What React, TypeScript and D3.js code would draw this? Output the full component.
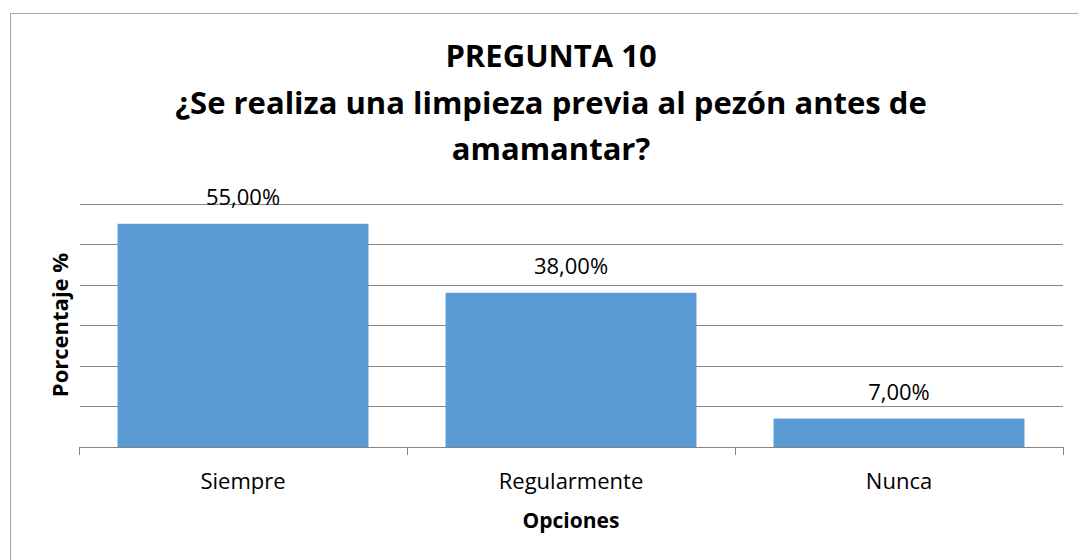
import * as d3 from 'd3';
import React, { ReactElement } from 'react';

const categories = ['Siempre', 'Regularmente', 'Nunca'];
const values = [55, 38, 7];
const yTicks = [0, 10, 20, 30, 40, 50, 60];
const titleLines = ['PREGUNTA 10', '¿Se realiza una limpieza previa al pezón antes de', 'amamantar?'];

const WIDTH = 1078;
const HEIGHT = 560;
const FONT = '"Open Sans", sans-serif';
const GRID = '#868686';

const App = (): ReactElement => {
  const left = 79;
  const right = 1063;
  const top = 203.5;
  const bottom = 447;

  const x = d3
    .scaleBand<string>()
    .domain(categories)
    .range([left, right])
    .paddingInner(0.235)
    .paddingOuter(0.1175);

  const y = d3.scaleLinear().domain([0, 60]).range([bottom, top]);

  const step = x.step();
  const edges = d3.range(categories.length + 1).map((i) => left + i * step);
  const fmt = (v: number) => v.toFixed(2).replace('.', ',') + '%';

  return (
    <svg
      width={WIDTH}
      height={HEIGHT}
      style={{ position: 'absolute', left: 0, top: 0, background: '#fff' }}
      fontFamily={FONT}
    >
      <rect x={10.5} y={13.5} width={1200} height={700} fill="#fff" stroke="#a6a6a6" />

      {titleLines.map((t, i) => (
        <text
          key={i}
          x={551}
          y={67 + i * 46.5}
          textAnchor="middle"
          fontSize={31}
          fontWeight="bold"
          fill="#000"
        >
          {t}
        </text>
      ))}

      {yTicks.slice(1).map((t) => (
        <line key={t} x1={left + 1} x2={right} y1={Math.round(y(t)) + 0.5} y2={Math.round(y(t)) + 0.5} stroke={GRID} />
      ))}

      {categories.map((c, i) => (
        <rect
          key={c}
          x={x(c)}
          y={y(values[i])}
          width={x.bandwidth()}
          height={bottom - y(values[i])}
          fill="#5b9bd5"
        />
      ))}

      <line x1={left} x2={right + 1} y1={bottom + 0.5} y2={bottom + 0.5} stroke={GRID} />
      {edges.map((e, i) => (
        <line key={i} x1={Math.round(e) + 0.5} x2={Math.round(e) + 0.5} y1={bottom} y2={bottom + 8} stroke={GRID} />
      ))}

      {categories.map((c, i) => (
        <text
          key={c}
          x={(x(c) as number) + x.bandwidth() / 2}
          y={y(values[i]) - 19}
          textAnchor="middle"
          fontSize={22}
          fill="#000"
        >
          {fmt(values[i])}
        </text>
      ))}

      {categories.map((c) => (
        <text
          key={c}
          x={(x(c) as number) + x.bandwidth() / 2}
          y={489}
          textAnchor="middle"
          fontSize={22}
          fill="#000"
        >
          {c}
        </text>
      ))}

      <text x={571} y={528} textAnchor="middle" fontSize={21} fontWeight="bold" fill="#000">
        Opciones
      </text>
      <text
        transform={`translate(68, 325) rotate(-90)`}
        textAnchor="middle"
        fontSize={22}
        fontWeight="bold"
        fill="#000"
      >
        Porcentaje %
      </text>
    </svg>
  );
};

export default App;
